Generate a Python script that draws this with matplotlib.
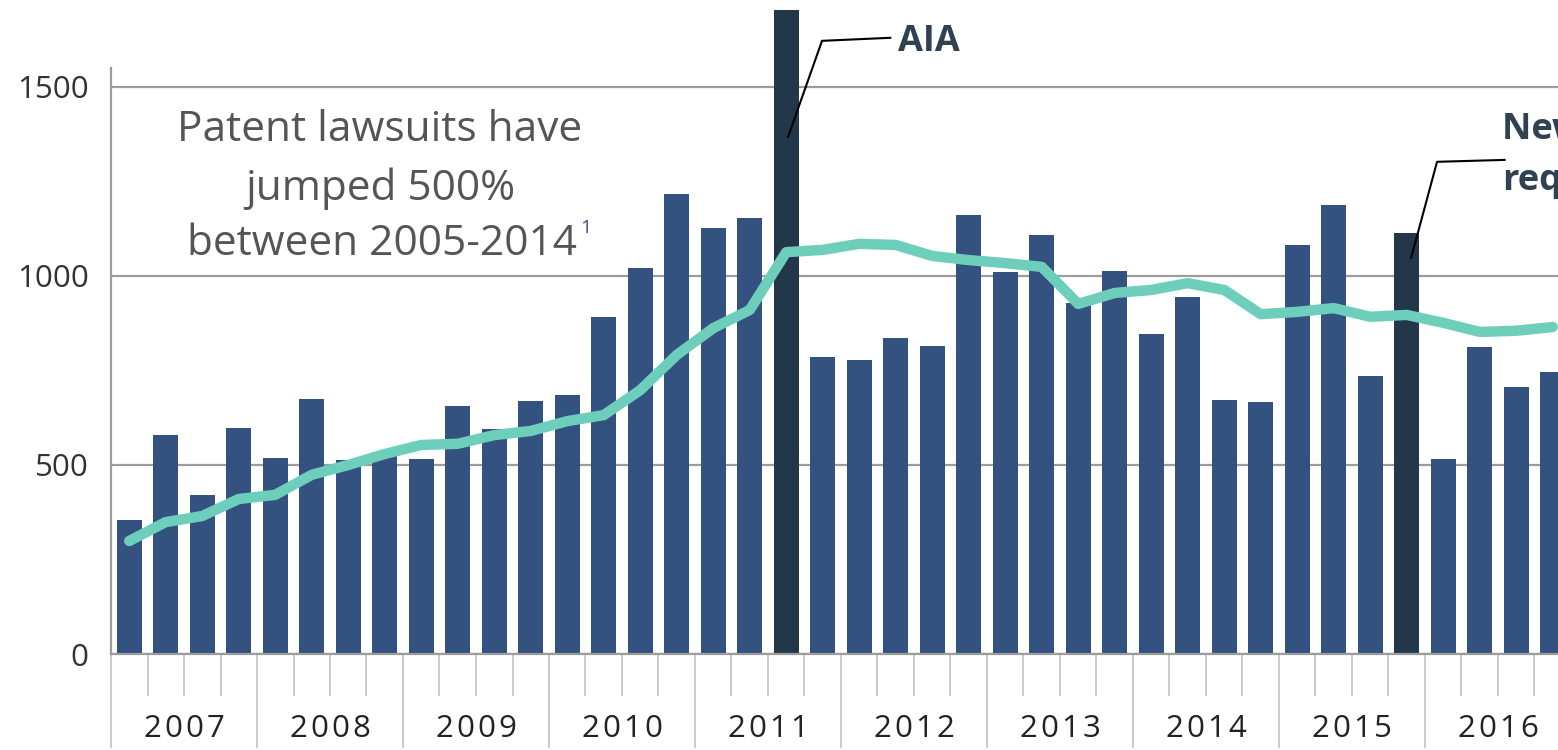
import matplotlib
matplotlib.use("Agg")
import matplotlib.pyplot as plt
import matplotlib.transforms as mtransforms
import numpy as np

# Quarterly patent lawsuits, 2007 Q1 - 2016 Q4
years = [2007, 2008, 2009, 2010, 2011, 2012, 2013, 2014, 2015, 2016]
quarters = [f"{y} Q{q}" for y in years for q in range(1, 5)]
lawsuits = [354, 579, 421, 598, 519, 675, 513, 534, 516, 656,
            595, 669, 685, 892, 1021, 1217, 1127, 1153, 1704, 786,
            778, 836, 815, 1161, 1011, 1108, 929, 1013, 847, 944,
            672, 667, 1082, 1188, 735, 1114, 516, 812, 706, 746]
trend = [299, 349, 365, 410, 421, 474, 500, 529, 553, 556,
         579, 590, 616, 632, 698, 791, 862, 910, 1063, 1069,
         1085, 1082, 1053, 1042, 1034, 1024, 926, 955, 963, 981,
         963, 899, 905, 915, 892, 897, 876, 852, 855, 865]
highlight = ["2011 Q3", "2015 Q4"]
yticks = [0, 500, 1000, 1500]

BAR = "#34527f"
DARK = "#22374a"
MINT = "#6dcfbb"
GRID = "#9c9c9c"
TICK = "#c6c6c6"
NOTE = "#2f4252"

plt.rcParams["font.family"] = ["Open Sans", "DejaVu Sans"]

W, H = 1558, 750
fig = plt.figure(figsize=(W / 100, H / 100), dpi=100)
ax = fig.add_axes([111 / W, 96 / H, 1 - 111 / W, 1 - 96 / H])

x = np.arange(len(quarters))
colors = [DARK if q in highlight else BAR for q in quarters]
ax.bar(x, lawsuits, width=0.69, color=colors, zorder=2)
ax.plot(x, trend, color=MINT, linewidth=7.5, solid_capstyle="round",
        solid_joinstyle="round", zorder=3)

# grid + spines
ax.set_yticks(yticks)
ax.set_yticklabels([str(v) for v in yticks], fontsize=22.5, color="#333333")
ax.yaxis.grid(True, color=GRID, linewidth=1.6, zorder=0)
ax.set_axisbelow(True)
ax.tick_params(axis="y", length=0, pad=16)
for side in ("top", "right"):
    ax.spines[side].set_visible(False)
ax.spines["left"].set_color(GRID)
ax.spines["left"].set_linewidth(1.6)
ax.spines["left"].set_bounds(0, 1550)
ax.spines["bottom"].set_color(GRID)
ax.spines["bottom"].set_linewidth(1.6)

# year boundaries (long ticks) and quarter boundaries (short ticks)
ax.set_xticks(np.arange(len(years) + 1) * 4 - 0.5)
ax.set_xticklabels([])
ax.set_xticks([i * 4 - 0.5 + k for i in range(len(years)) for k in (1, 2, 3)], minor=True)
ax.tick_params(axis="x", which="major", length=68, width=1.3, color=TICK, direction="out")
ax.tick_params(axis="x", which="minor", length=30, width=1.3, color=TICK, direction="out")

# limits after ticks so the ticks do not widen the view
ax.set_xlim(-0.5, (W - 129.25) / 36.5)
ax.set_ylim(0, 1730)

# year labels with a little letter spacing
ylab = -75 / 654
pitch = 20.8
for i, yr in enumerate(years):
    s = str(yr)
    for k, ch in enumerate(s):
        off = mtransforms.ScaledTranslation((k - (len(s) - 1) / 2) * pitch / 100, 0,
                                            fig.dpi_scale_trans)
        ax.text(i * 4 + 1.5, ylab, ch, transform=ax.get_xaxis_transform() + off,
                ha="center", va="center", fontsize=22.5, color="#222222", clip_on=False)

# headline text
tcol = "#555555"
fig.text(380 / W, 1 - 130 / H, "Patent lawsuits have", ha="center", va="center",
         fontsize=30.5, color=tcol)
fig.text(380 / W, 1 - 189 / H, "jumped 500%", ha="center", va="center",
         fontsize=30.5, color=tcol)
t3 = fig.text(382 / W, 1 - 244 / H, "between 2005-2014", ha="center", va="center",
              fontsize=30.5, color=tcol)
fig.canvas.draw()
bb = t3.get_window_extent()
fig.text((bb.x1 + 3) / W, 1 - 228 / H, "1", ha="left", va="center",
         fontsize=14, color=BAR)

# annotations
ax.plot([18.05, 18.98, 20.85], [1368, 1622, 1630], color="black",
        linewidth=1.5, clip_on=False, zorder=4)
ax.text(21.05, 1618, "AIA", ha="left", va="center", fontsize=26,
        fontweight="bold", color=NOTE, clip_on=False)

ax.plot([35.12, 35.83, 37.68], [1048, 1302, 1307], color="black",
        linewidth=1.5, clip_on=False, zorder=4)
ax.text(37.62, 1385, "New pleading", ha="left", va="center", fontsize=26,
        fontweight="bold", color=NOTE, clip_on=False)
ax.text(37.62, 1252, "requirements", ha="left", va="center", fontsize=26,
        fontweight="bold", color=NOTE, clip_on=False)

fig.savefig("out.png", dpi=100)
